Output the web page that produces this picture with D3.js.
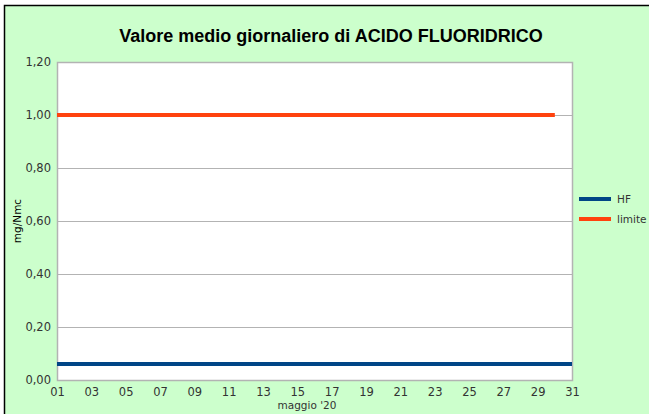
<!DOCTYPE html>
<html><head><meta charset="utf-8">
<script src="https://cdn.jsdelivr.net/npm/d3@7"></script>
<style>body{margin:0;background:#fff;overflow:hidden}svg{display:block}</style>
</head><body>
<script>
const days = d3.range(1, 32);
const hfValues = days.map(() => 0.06);
const limiteDays = d3.range(1, 31);
const limiteValues = limiteDays.map(() => 1.0);
const yTicks = [0, 0.2, 0.4, 0.6, 0.8, 1.0, 1.2];
const xTicks = d3.range(1, 32, 2);
const title = "Valore medio giornaliero di ACIDO FLUORIDRICO";
const yTitle = "mg/Nmc";
const xTitle = "maggio '20";
const seriesNames = ["HF", "limite"];
const colors = ["#004586", "#ff420e"];

const W = 649, H = 414;
const svg = d3.select("body").append("svg").attr("width", W).attr("height", H);
svg.append("rect").attr("x", 4.5).attr("y", 5.5).attr("width", W + 10).attr("height", H + 10)
  .attr("fill", "#ccffcc").attr("stroke", "#000").attr("stroke-width", 1.5);

const L = 57, R = 572, T = 62, B = 380;
const x = d3.scaleLinear().domain([1, 31]).range([L, R]);
const y = d3.scaleLinear().domain([0, 1.2]).range([B, T]);

svg.append("rect").attr("x", L).attr("y", T).attr("width", R - L).attr("height", B - T).attr("fill", "#fff");

const fmt = d => d.toFixed(2).replace(".", ",");
const yAxis = svg.append("g").attr("transform", `translate(${L},0)`)
  .call(d3.axisLeft(y).tickValues(yTicks).tickFormat(fmt).tickSize(-(R - L)).tickPadding(6));
yAxis.select(".domain").remove();
yAxis.selectAll("line").attr("stroke", "#b3b3b3");
yAxis.selectAll("text").attr("font-family", "DejaVu Sans").attr("font-size", 11.5).attr("fill", "#333");

const xAxis = svg.append("g").attr("transform", `translate(0,${B})`)
  .call(d3.axisBottom(x).tickValues(xTicks).tickFormat(d => String(d).padStart(2, "0")).tickSize(0).tickPadding(8));
xAxis.select(".domain").remove();
xAxis.selectAll("text").attr("font-family", "DejaVu Sans").attr("font-size", 11.5).attr("fill", "#333");

svg.append("rect").attr("x", L + 0.5).attr("y", T + 0.5).attr("width", R - L).attr("height", B - T)
  .attr("fill", "none").attr("stroke", "#b3b3b3").attr("stroke-width", 1.5);

const line = d3.line().x(d => x(d[0])).y(d => y(d[1]));
svg.append("path").datum(days.map((d, i) => [d, hfValues[i]]))
  .attr("d", line).attr("fill", "none").attr("stroke", colors[0]).attr("stroke-width", 4);
svg.append("path").datum(limiteDays.map((d, i) => [d, limiteValues[i]]))
  .attr("d", line).attr("fill", "none").attr("stroke", colors[1]).attr("stroke-width", 4);

svg.append("text").attr("x", 331).attr("y", 42).attr("text-anchor", "middle")
  .attr("font-family", "Liberation Sans").attr("font-weight", "bold").attr("font-size", 18).attr("fill", "#000").text(title);

svg.append("text").attr("transform", `translate(21,221) rotate(-90)`).attr("text-anchor", "middle")
  .attr("font-family", "DejaVu Sans").attr("font-size", 10.5).attr("fill", "#000").text(yTitle);
svg.append("text").attr("x", 307).attr("y", 409).attr("text-anchor", "middle")
  .attr("font-family", "DejaVu Sans").attr("font-size", 10.5).attr("fill", "#333").text(xTitle);

const lg = svg.append("g");
seriesNames.forEach((n, i) => {
  const yy = 199 + i * 20;
  lg.append("line").attr("x1", 579).attr("x2", 611).attr("y1", yy).attr("y2", yy)
    .attr("stroke", colors[i]).attr("stroke-width", 4);
  lg.append("text").attr("x", 617).attr("y", yy + 4).attr("font-family", "DejaVu Sans")
    .attr("font-size", 10.5).attr("fill", "#333").text(n);
});
</script>
</body></html>
